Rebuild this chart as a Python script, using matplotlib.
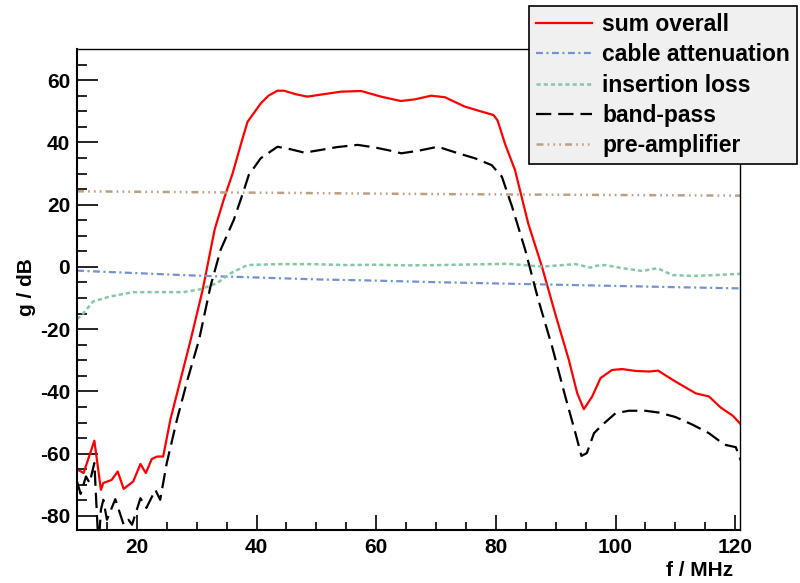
import matplotlib
matplotlib.use('Agg')
from matplotlib import pyplot as plt

plt.rcParams['font.family'] = ['Liberation Sans', 'DejaVu Sans']
plt.rcParams['font.weight'] = 'bold'
plt.rcParams['lines.scale_dashes'] = False
plt.rcParams['axes.unicode_minus'] = False

# sum overall
x_sum = [10, 11.1, 12.9, 14.0, 14.4, 15.8, 16.8, 17.8, 19.4, 20.6, 21.5, 22.5, 23.4, 24.4,
         25.6, 27, 29, 31, 33, 34.5, 36, 37.6, 38.5, 40.7, 42, 43.5, 44.6, 46.5, 48.5, 51.3,
         54.1, 57.5, 60.8, 64.1, 66.4, 69.2, 71.5, 74.8, 77.6, 79.6, 80.3, 81.5, 83.2, 85.4,
         87.7, 89.9, 92.2, 93.6, 94.7, 96.1, 97.5, 99.4, 101.1, 103.3, 105.6, 107.1, 110.0,
         113.4, 115.6, 117.6, 119.6, 121]
y_sum = [-65, -66.2, -55.8, -71.6, -69.4, -68.4, -65.7, -71.3, -68.9, -63.3, -66.2, -61.7, -60.9, -60.9,
         -49.1, -38.5, -23.4, -7.4, 12, 21.5, 30, 40.8, 46.6, 52.5, 55, 56.6, 56.6, 55.5, 54.7, 55.5,
         56.3, 56.5, 54.7, 53.3, 53.8, 55.0, 54.5, 51.5, 49.9, 48.8, 47, 39.7, 31.1, 14,
         0.1, -14.9, -29.9, -40.6, -45.7, -41.6, -35.7, -33.1, -32.8, -33.4, -33.6, -33.3, -36.8,
         -40.6, -41.6, -45.2, -47.8, -50.7]

# cable attenuation
x_cable = [10, 20, 30, 40, 50, 60, 70, 80, 90, 100, 110, 121]
y_cable = [-1.2, -2.0, -2.8, -3.4, -4.0, -4.4, -4.9, -5.3, -5.7, -6.1, -6.5, -6.9]

# insertion loss
x_ins = [10, 11, 12.7, 15.5, 19.4, 23.9, 27.8, 30.6, 33.4, 35.7, 38.5, 43.5, 49.1, 55, 60, 65,
         70.9, 76, 82.1, 87.7, 93.3, 95.8, 96.9, 98.3, 101.1, 104.5, 107.0, 109.5, 112.9, 116.8, 121]
y_ins = [-16.8, -15, -11.1, -9.5, -8.1, -8.1, -8.1, -7.2, -5.2, -2.0, 0.6, 0.9, 0.9, 0.6, 0.7, 0.5,
         0.6, 0.8, 1.0, 0.1, 0.9, -0.2, 0.4, 0.6, -0.4, -1.3, -0.4, -2.6, -2.9, -2.6, -2.2]

# band-pass
x_bp = [10, 10.6, 11.5, 12.1, 12.9, 13.6, 14.0, 14.4, 15.0, 16.4, 17.8, 18.6, 19.2, 20.6, 21.6,
        23.1, 23.9, 25.0, 26.7, 28.5, 30.4, 32.3, 34.0, 36.2, 37.9, 38.7, 40.7, 43.5, 45.7, 48.0,
        50.8, 53.5, 56.9, 59.7, 62, 64.2, 67, 70.3, 73.7, 76.5, 79.3, 81.0, 82.7, 84.9, 87.1, 89.4,
        91.6, 93.3, 94.3, 95.2, 96.4, 97.8, 100, 102.2, 105.0, 107.3, 110.0, 112.9, 115.6, 118.2,
        120.1, 121]
y_bp = [-68.9, -72.9, -67.3, -69.4, -63, -90, -78, -74.8, -81.2, -74.6, -82.8, -81.2, -82.8, -74.3, -77.4,
        -71.6, -74.8, -63, -49.1, -36, -23.4, -6.3, 5.5, 15.1, 24.7, 29.5, 34.9, 38.6, 37.8, 36.7,
        37.6, 38.5, 39.2, 38.4, 37.5, 36.5, 37.3, 38.6, 36.5, 34.9, 32.7, 29, 19.4, 5.5, -10.6, -25.6,
        -41.6, -53.4, -60.7, -59.8, -53.4, -50.7, -47, -46.2, -46.2, -46.8, -48.2, -50.7, -53.4, -57.1,
        -57.9, -62.5]

# pre-amplifier
x_pre = [10, 30, 50, 70, 90, 110, 121]
y_pre = [24.3, 24.0, 23.7, 23.4, 23.2, 23.0, 22.9]

fig = plt.figure(figsize=(8, 5.83), dpi=100)
ax = fig.add_axes([77/800, 1-530/583, 663/800, 481/583])

ax.plot(x_sum, y_sum, color='#ff0000', lw=1.6, label='sum overall')
ax.plot(x_cable, y_cable, color='#7291d6', lw=1.6, dashes=(5, 2.5, 1.5, 2.5), label='cable attenuation')
ax.plot(x_ins, y_ins, color='#85c8a4', lw=1.8, dashes=(3, 2.2), label='insertion loss')
ax.plot(x_bp, y_bp, color='black', lw=1.6, dashes=(11, 5), label='band-pass')
ax.plot(x_pre, y_pre, color='#bd9f82', lw=1.8, dashes=(5, 3, 1.2, 3, 1.2, 3, 1.2, 3), label='pre-amplifier')

ax.set_xlim(10, 120.8)
ax.set_ylim(-84.5, 70)
ax.set_xticks([20, 40, 60, 80, 100, 120])
ax.set_xticks(range(15, 121, 5), minor=True)
ax.set_yticks([-80, -60, -40, -20, 0, 20, 40, 60])
ax.set_yticks(range(-80, 70, 5), minor=True)
ax.tick_params(axis='both', which='both', direction='in', top=False, right=False, labelsize=15)
ax.tick_params(axis='y', which='major', length=15, width=1.2, pad=5)
ax.tick_params(axis='y', which='minor', length=7.5, width=1.2)
ax.tick_params(axis='x', which='major', length=11, width=1.2, pad=6)
ax.tick_params(axis='x', which='minor', length=5.5, width=1.2)
for lab in ax.get_xticklabels() + ax.get_yticklabels():
    lab.set_fontweight('bold')
for s in ['left', 'bottom']:
    ax.spines[s].set_linewidth(1.5)
for s in ['top', 'right']:
    ax.spines[s].set_linewidth(1.0)

fig.text(26/800, 1-287/583, 'g / dB', rotation=90, ha='center', va='center', fontsize=15, fontweight='bold')
fig.text(733/800, 1-570/583, 'f / MHz', ha='right', va='center', fontsize=15, fontweight='bold')

leg = fig.legend(loc='upper right', bbox_to_anchor=(797/800, 1-6/583), fontsize=16.5,
                 frameon=True, fancybox=False, facecolor='#f0f0f0', edgecolor='black', framealpha=1,
                 handlelength=2.45, handletextpad=0.45, borderpad=0.3, labelspacing=0.32, borderaxespad=0)
leg.get_frame().set_linewidth(1.2)
for t in leg.get_texts():
    t.set_fontweight('bold')

fig.savefig('out.png', dpi=100)
